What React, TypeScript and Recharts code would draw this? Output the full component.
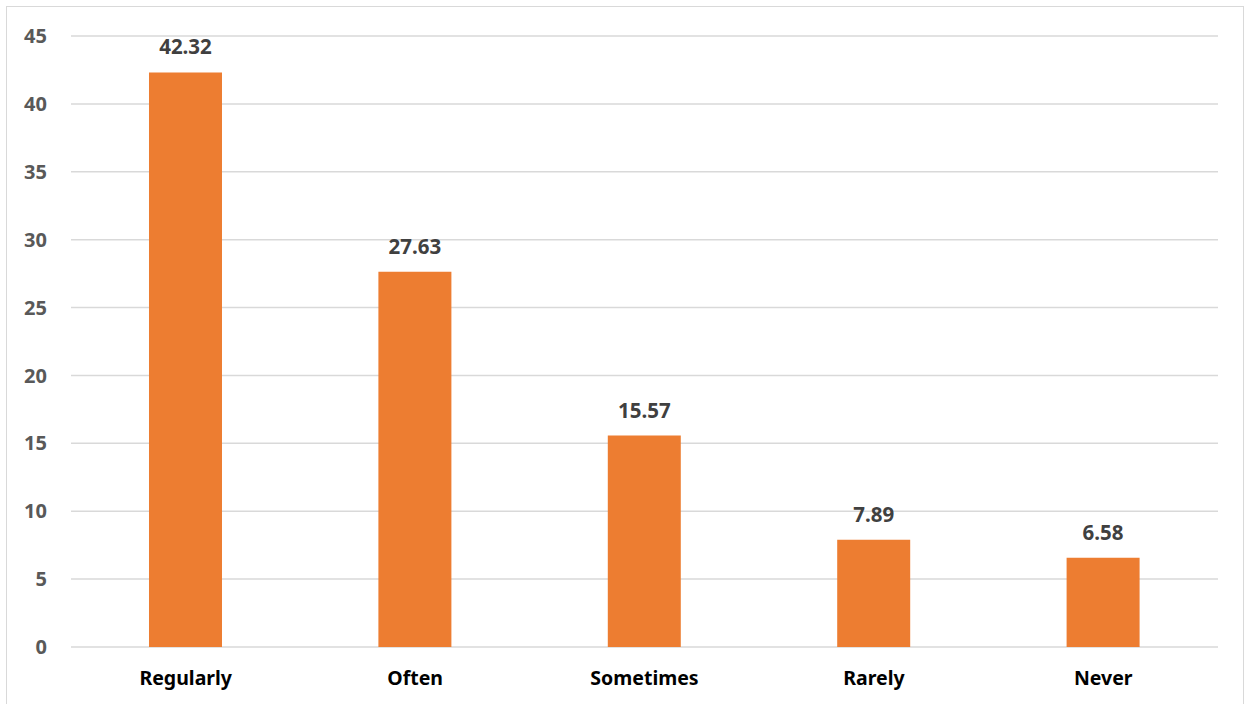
import { BarChart, Bar, XAxis, YAxis, CartesianGrid, LabelList } from "recharts"

const categories = ["Regularly", "Often", "Sometimes", "Rarely", "Never"]
const values = [42.32, 27.63, 15.57, 7.89, 6.58]
const yTicks = [0, 5, 10, 15, 20, 25, 30, 35, 40, 45]

const data = categories.map((name, i) => ({ name, value: values[i] }))

const font = "'Noto Sans', sans-serif"

export default function App() {
  return (
    <div style={{ position: "fixed", left: 0, top: 0, width: 1247, height: 704, background: "#fff" }}>
      <div
        style={{
          position: "absolute",
          left: 6,
          top: 6,
          width: 1238,
          height: 720,
          border: "1px solid #D9D9D9",
          boxSizing: "border-box",
        }}
      />
      <BarChart
        width={1247}
        height={704}
        data={data}
        margin={{ top: 36, right: 29, bottom: 17, left: 11 }}
        barCategoryGap="34%"
        style={{ fontFamily: font }}
      >
        <CartesianGrid vertical={false} stroke="#D9D9D9" strokeWidth={1.5} />
        <XAxis
          dataKey="name"
          axisLine={false}
          tickLine={false}
          height={40}
          tick={{ fill: "#000", fontSize: 19.5, fontWeight: 700 }}
          tickMargin={18}
        />
        <YAxis
          width={60}
          domain={[0, 45]}
          ticks={yTicks}
          axisLine={false}
          tickLine={false}
          tick={{ fill: "#595959", fontSize: 20, fontWeight: 700 }}
          tickMargin={18}
        />
        <Bar dataKey="value" fill="#ED7D31" isAnimationActive={false}>
          <LabelList
            dataKey="value"
            position="top"
            offset={18}
            style={{ fill: "#404040", fontSize: 20.5, fontWeight: 700 }}
          />
        </Bar>
      </BarChart>
    </div>
  )
}
